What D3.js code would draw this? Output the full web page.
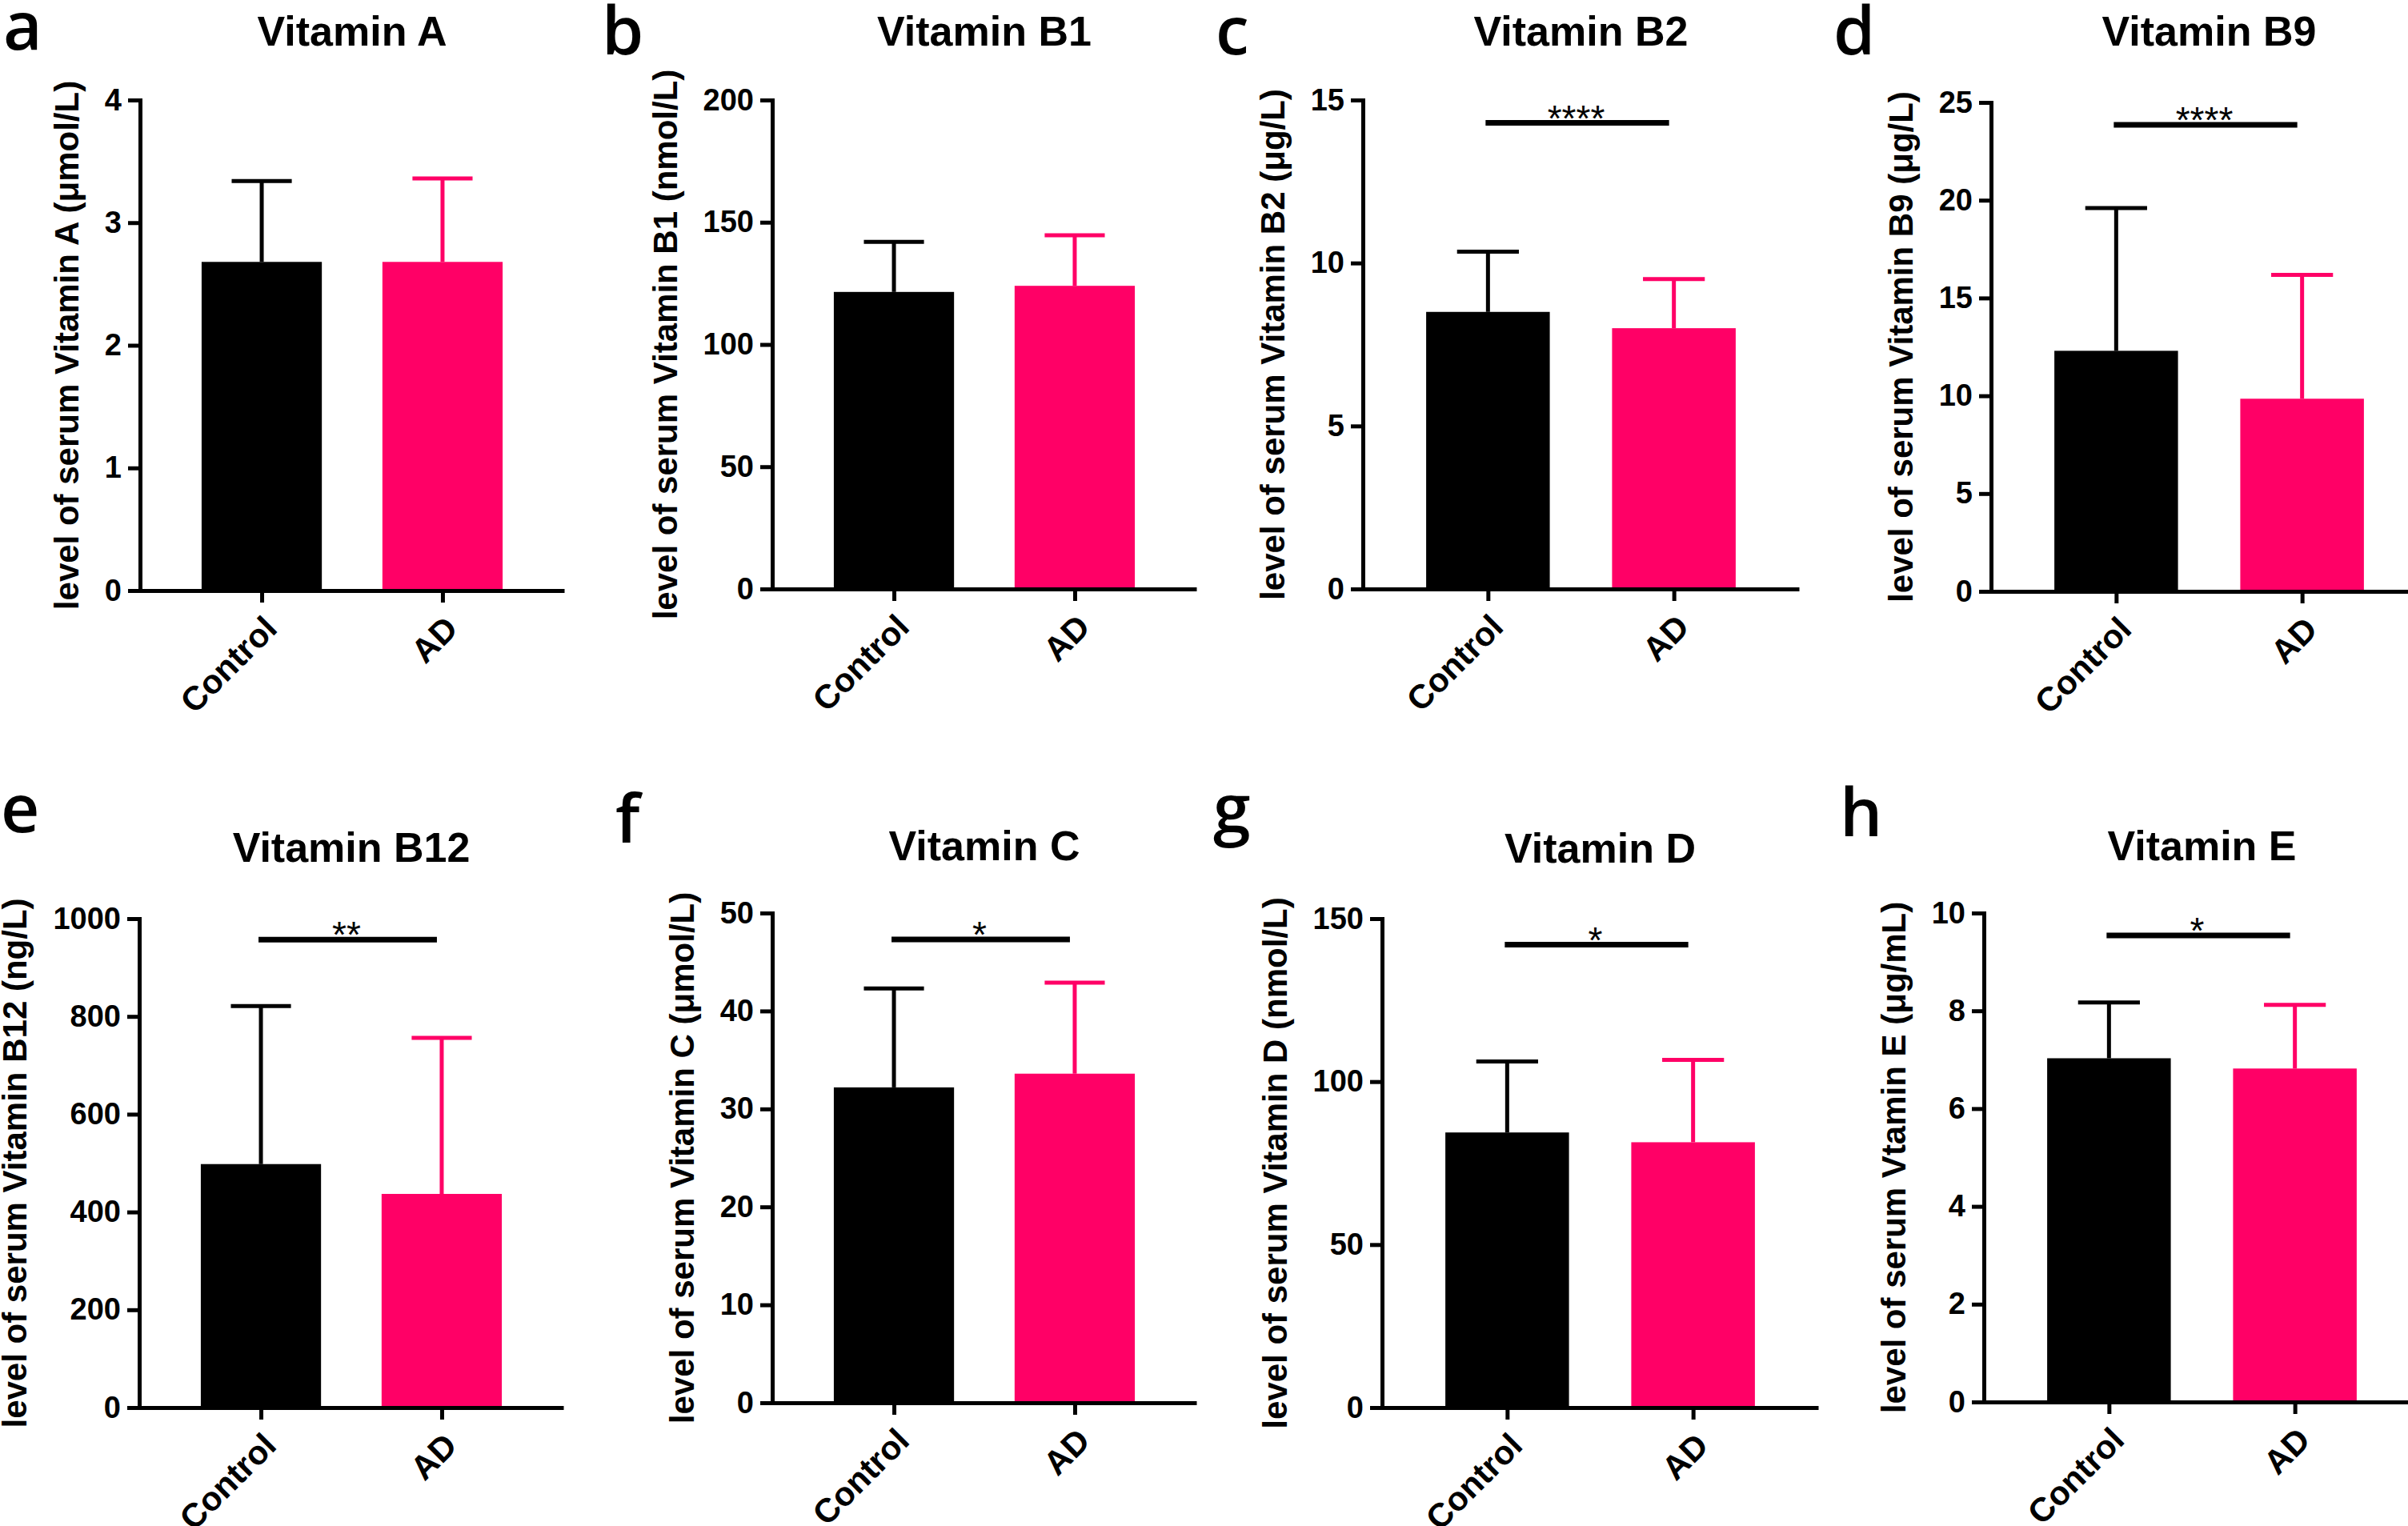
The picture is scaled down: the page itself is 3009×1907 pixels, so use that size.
<!DOCTYPE html>
<html><head><meta charset="utf-8">
<script src="https://cdn.jsdelivr.net/npm/d3@7"></script>
<style>body{margin:0;background:#fff}svg{display:block}</style>
</head><body>
<script>
// ---------- data ----------
const panelLetters = ["a","b","c","d","e","f","g","h"];
const titles = ["Vitamin A","Vitamin B1","Vitamin B2","Vitamin B9","Vitamin B12","Vitamin C","Vitamin D","Vitamin E"];
const yLabels = [
  "level of serum Vitamin A (μmol/L)",
  "level of serum Vitamin B1 (nmol/L)",
  "level of serum Vitamin B2 (μg/L)",
  "level of serum Vitamin B9 (μg/L)",
  "level of serum Vitamin B12 (ng/L)",
  "level of serum Vitamin C (μmol/L)",
  "level of serum Vitamin D (nmol/L)",
  "level of serum Vtamin E (μg/mL)"
];
const groups = ["Control","AD"];
const meanControl = [2.68, 121.5, 8.5, 12.3, 498, 32.2, 84.4, 7.03];
const sdControl   = [0.66, 20.5, 1.85, 7.3, 323, 10.1, 21.8, 1.14];
const meanAD      = [2.68, 124.0, 8.0, 9.85, 437, 33.6, 81.4, 6.82];
const sdAD        = [0.68, 20.7, 1.51, 6.33, 319, 9.3, 25.3, 1.30];
const yMax = [4, 200, 15, 25, 1000, 50, 150, 10];
const yTicks = [
  [0,1,2,3,4],
  [0,50,100,150,200],
  [0,5,10,15],
  [0,5,10,15,20,25],
  [0,200,400,600,800,1000],
  [0,10,20,30,40,50],
  [0,50,100,150],
  [0,2,4,6,8,10]
];
const sigLabels = ["", "", "****", "****", "**", "*", "*", "*"];
const sigLevel  = [null, null, 14.3, 23.85, 957, 47.3, 142, 9.54];

// ---------- layout ----------
const axisX   = [175, 965, 1703, 2488, 174, 965, 1727, 2479];
const plotTop = [125, 125, 125, 128, 1148, 1141, 1148, 1141];
const plotBot = [738, 736, 736, 739, 1759, 1753, 1759, 1752];
const plotW   = [530, 530, 545, 545, 530, 530, 545, 545];
const titleY  = [57, 57, 57, 57, 1077, 1075, 1078, 1075];
const letterX = [4, 752, 1519, 2291, 1, 769, 1516, 2299];
const letterY = [62, 68, 68, 68, 1040, 1053, 1040, 1045];
const colors = {Control: "#000000", AD: "#ff0066"};
const FONT = "'Liberation Sans', Arial, sans-serif";

const W = 3009, H = 1907;
const svg = d3.select("body").append("svg").attr("width", W).attr("height", H)
  .style("font-family", FONT);

panelLetters.forEach((letter, i) => {
  const g = svg.append("g");
  const y = d3.scaleLinear().domain([0, yMax[i]]).range([plotBot[i], plotTop[i]]);
  const x = d3.scalePoint().domain(groups).range([axisX[i], axisX[i] + plotW[i]]).padding(0.673);
  const bw = x.step() * 0.665;

  const vals = [
    {g: "Control", m: meanControl[i], s: sdControl[i]},
    {g: "AD", m: meanAD[i], s: sdAD[i]}
  ];

  // error bars (upper only)
  g.selectAll(".eb").data(vals).join("line")
    .attr("x1", d => x(d.g)).attr("x2", d => x(d.g))
    .attr("y1", d => y(d.m)).attr("y2", d => y(d.m + d.s))
    .attr("stroke", d => colors[d.g]).attr("stroke-width", 5);
  g.selectAll(".cap").data(vals).join("line")
    .attr("x1", d => x(d.g) - bw / 4).attr("x2", d => x(d.g) + bw / 4)
    .attr("y1", d => y(d.m + d.s)).attr("y2", d => y(d.m + d.s))
    .attr("stroke", d => colors[d.g]).attr("stroke-width", 5);

  // bars
  g.selectAll(".bar").data(vals).join("rect")
    .attr("x", d => x(d.g) - bw / 2).attr("width", bw)
    .attr("y", d => y(d.m)).attr("height", d => y(0) - y(d.m))
    .attr("fill", d => colors[d.g]);

  // y axis
  const ya = g.append("g").attr("transform", `translate(${axisX[i]},0)`)
    .call(d3.axisLeft(y).tickValues(yTicks[i]).tickFormat(d3.format("d"))
      .tickSize(15).tickSizeOuter(0).tickPadding(8));
  ya.select(".domain").attr("stroke-width", 5).attr("stroke-linecap", "square");
  ya.selectAll(".tick line").attr("stroke-width", 5);
  ya.selectAll(".tick text").attr("font-size", 38).attr("font-weight", "bold")
    .attr("font-family", FONT).attr("fill", "#000");

  // x axis
  const xa = g.append("g").attr("transform", `translate(0,${plotBot[i]})`)
    .call(d3.axisBottom(x).tickSize(15).tickSizeOuter(0));
  xa.select(".domain").attr("stroke-width", 5);
  xa.selectAll(".tick line").attr("stroke-width", 5);
  xa.selectAll(".tick text")
    .attr("x", null).attr("y", null).attr("dy", null)
    .attr("text-anchor", "end")
    .attr("transform", "translate(21,50) rotate(-45)")
    .attr("font-size", 42).attr("font-weight", "bold")
    .attr("font-family", FONT).attr("fill", "#000");

  // y label, placed left of tick labels
  let minX = Infinity;
  ya.selectAll(".tick text").each(function () {
    const b = this.getBBox();
    minX = Math.min(minX, axisX[i] - 23 - b.width);
  });
  const lx = minX - 33;
  const ly = (plotTop[i] + plotBot[i]) / 2;
  g.append("text").attr("transform", `translate(${lx},${ly}) rotate(-90)`)
    .attr("text-anchor", "middle").attr("font-size", 42).attr("font-weight", "bold")
    .text(yLabels[i]);

  // title
  g.append("text").attr("x", axisX[i] + plotW[i] / 2).attr("y", titleY[i])
    .attr("text-anchor", "middle").attr("font-size", 52).attr("font-weight", "bold")
    .text(titles[i]);

  // panel letter
  g.append("text").attr("x", letterX[i]).attr("y", letterY[i])
    .attr("font-family", "'Open Sans', sans-serif").attr("font-size", 84)
    .attr("font-weight", 600)
    .text(letter);

  // significance
  if (sigLevel[i] !== null) {
    const x1 = x("Control"), x2 = x("AD");
    g.append("line").attr("x1", x1 - 3).attr("x2", x2 - 6)
      .attr("y1", y(sigLevel[i])).attr("y2", y(sigLevel[i]))
      .attr("stroke", "#000").attr("stroke-width", 7);
    g.append("text").attr("x", (x1 + x2) / 2 - 6).attr("y", y(sigLevel[i]) + 10)
      .attr("text-anchor", "middle").attr("font-size", 46)
      .text(sigLabels[i]);
  }
});
</script>
</body></html>
